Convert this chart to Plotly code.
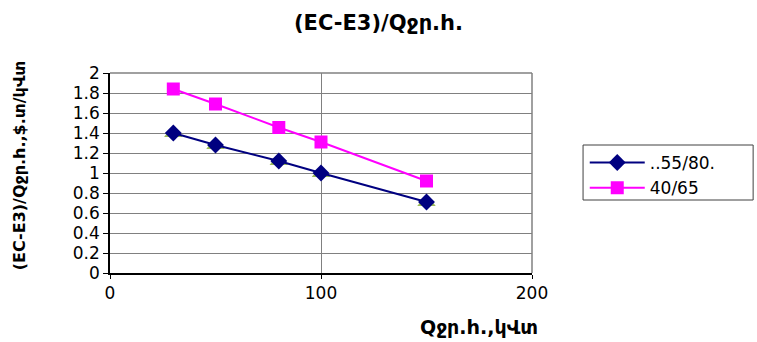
import plotly.graph_objects as go

# Flow rate values and specific cost for the two temperature regimes
q_flow = [30, 50, 80, 100, 150]
cost_55_80 = [1.40, 1.28, 1.12, 1.00, 0.71]
cost_40_65 = [1.84, 1.69, 1.455, 1.31, 0.92]
y_ticks = [0, 0.2, 0.4, 0.6, 0.8, 1, 1.2, 1.4, 1.6, 1.8, 2]
x_ticks = [0, 100, 200]

font_main = "DejaVu Sans, Liberation Sans, Arial"

fig = go.Figure()

# Underlying marker series sitting behind the diamonds
fig.add_trace(go.Scatter(
    x=q_flow, y=cost_55_80, mode="markers",
    marker=dict(symbol="triangle-up", size=16, color="#9BBB59"),
    showlegend=False, hoverinfo="skip",
))
fig.add_trace(go.Scatter(
    x=q_flow, y=cost_55_80, mode="lines+markers", name="..55/80.",
    line=dict(color="#000080", width=2),
    marker=dict(symbol="diamond", size=13, color="#000080"),
))
fig.add_trace(go.Scatter(
    x=q_flow, y=cost_40_65, mode="lines+markers", name="40/65",
    line=dict(color="#FF00FF", width=2),
    marker=dict(symbol="square", size=13, color="#FF00FF"),
))

fig.update_layout(
    width=757, height=342,
    margin=dict(l=110, r=225, t=73, b=69),
    paper_bgcolor="white", plot_bgcolor="white",
    font=dict(family=font_main, size=17, color="black"),
    title=dict(
        text="<b>(EC-E3)/Qջր.h.</b>", x=0.5, xanchor="center",
        y=0.935, yanchor="middle",
        font=dict(family=font_main, size=21, color="black"),
    ),
    legend=dict(
        x=1.125, y=0.64, xanchor="left", yanchor="top",
        borderwidth=0, bgcolor="rgba(0,0,0,0)",
        font=dict(family=font_main, size=17),
        itemwidth=55, tracegroupgap=0,
    ),
    showlegend=True,
)

fig.update_xaxes(
    range=[0, 200], tickvals=x_ticks, ticktext=[str(v) for v in x_ticks],
    showgrid=True, gridcolor="#808080", gridwidth=1,
    showline=True, linecolor="black", linewidth=1.5,
    ticks="outside", ticklen=4, tickcolor="black",
    zeroline=False, mirror=False,
)
fig.update_yaxes(
    range=[0, 2], tickvals=y_ticks, ticktext=[f"{v:g}" for v in y_ticks],
    showgrid=True, gridcolor="#808080", gridwidth=1,
    showline=True, linecolor="black", linewidth=1.5,
    ticks="outside", ticklen=5, tickcolor="black",
    zeroline=False,
)

# Gray frame on the top and right sides of the plot area
fig.add_shape(type="line", xref="paper", yref="paper", x0=0, x1=1, y0=1, y1=1,
              line=dict(color="#808080", width=1.5))
fig.add_shape(type="line", xref="paper", yref="paper", x0=1, x1=1, y0=0, y1=1,
              line=dict(color="#808080", width=1.5))

# Legend frame
fig.add_shape(type="rect", xref="paper", yref="paper",
              x0=1.121, x1=1.524, y0=0.365, y1=0.64,
              line=dict(color="#404040", width=1))

# Axis titles
fig.add_annotation(
    text="<b>Qջր.h.,կՎտ</b>", xref="paper", yref="paper",
    x=0.875, y=-0.27, xanchor="center", yanchor="middle", showarrow=False,
    font=dict(family=font_main, size=19, color="black"),
)
fig.add_annotation(
    text="<b>(EC-E3)/Qջր.h.,$.տ/կՎտ</b>", xref="paper", yref="paper",
    x=-0.215, y=0.54, xanchor="center", yanchor="middle", showarrow=False,
    textangle=-90, font=dict(family=font_main, size=16, color="black"),
)

fig.write_html("out.html")
